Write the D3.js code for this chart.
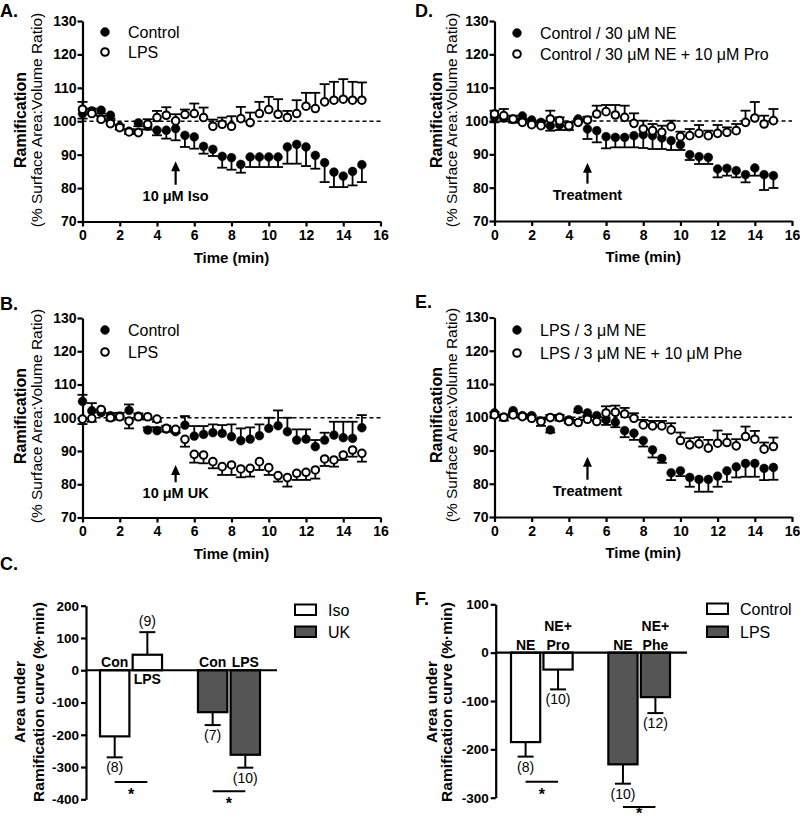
<!DOCTYPE html>
<html lang="en">
<head>
<meta charset="UTF-8">
<script src="https://cdn.jsdelivr.net/npm/d3@7"></script>
<title>Ramification time course and AUC</title>
<style>
  body { margin: 0; background: #fff; }
  svg { display: block; font-family: "Liberation Sans", Arial, sans-serif; }
  .axis path, .axis line { stroke: #000; stroke-width: 2.2px; }
  .axis text { font-weight: bold; font-size: 14px; fill: #000; }
  .bar-axis text { font-size: 13.5px; }
  .lab { font-weight: bold; }
</style>
</head>
<body>
<svg id="fig" width="800" height="823"></svg>
<script>
// time points (min)
const time = [0, 0.5, 1, 1.5, 2, 2.5, 3, 3.5, 4, 4.5, 5, 5.5, 6, 6.5, 7, 7.5,
              8, 8.5, 9, 9.5, 10, 10.5, 11, 11.5, 12, 12.5, 13, 13.5, 14, 14.5, 15];
const timeTicks = [0, 2, 4, 6, 8, 10, 12, 14, 16];
const ramTicks = [70, 80, 90, 100, 110, 120, 130];

// A. Control vs LPS, 10 uM Iso
const ctrlA = [102.3, 103.1, 103.3, 101.8, 98.5, 97, 99.5, 98.5, 97.3, 97.3, 97.8, 95.8, 95.3, 92.5, 91.6, 89.5,
               89.1, 87.1, 89.3, 89.3, 89.3, 89.3, 92.3, 93.1, 92.3, 89.8, 87.6, 84.8, 83.6, 85, 87];
const ctrlAErr = [1.5, 1, 1, 1, 1, 0.8, 1, 1, 1.5, 2.5, 3.5, 3.5, 3.5, 2.2, 2, 3.4,
                  3.6, 2.5, 3, 3, 3, 3, 5, 5.8, 5.7, 4, 5.8, 4.5, 3.3, 4.2, 5.2];
const lpsA = [103.6, 102.3, 100.6, 99.3, 98.1, 96.8, 96.6, 99.1, 101.1, 101.8, 100.1, 102, 102.3, 101.1, 98.5, 99.1,
              98.5, 100.8, 99.6, 102.3, 103.5, 102.1, 101.1, 102.3, 104.5, 103.8, 105.8, 106.3, 106.6, 106.3, 106.3];
const lpsAErr = [2.2, 1.5, 1, 1, 0.8, 0.8, 1, 1.5, 2, 2.4, 2, 1.5, 3, 3, 2, 2,
                 3, 3.5, 3, 3.5, 3.8, 4.5, 2, 4, 4, 4.7, 5.3, 5.5, 6, 5.5, 5.3];

// B. Control vs LPS, 10 uM UK
const ctrlB = [104.9, 102.1, 101.5, 100.6, 100.5, 102.2, 100.5, 96.3, 96.1, 96.6, 95.8, 97.8, 94.5, 95, 95.5, 95.3,
               94.3, 93.1, 93.6, 94.6, 96.8, 97.6, 95.8, 93.3, 93.6, 91.3, 93.3, 94.8, 94, 93.8, 97];
const ctrlBErr = [2, 2.3, 1, 0.8, 1, 1.8, 0.8, 0.8, 1, 1, 1.2, 2.7, 3, 2.5, 2.5, 2.5,
                  3.7, 3.7, 3.5, 3.4, 3.2, 4.6, 4.2, 3.2, 2.9, 2, 2.2, 4, 4.8, 5, 3.8];
const lpsB = [99.6, 99.8, 102.5, 100, 100.3, 99, 100.3, 100.3, 99.6, 96.8, 96.5, 93.5, 89, 88.8, 86.8, 85.3,
              85.8, 84.6, 84.8, 86.8, 85, 82.6, 82, 83.3, 83.6, 84.3, 87.6, 87.3, 88.8, 90.3, 89.3];
const lpsBErr = [1.5, 1, 0.8, 0.8, 0.8, 2.2, 0.8, 0.8, 0.8, 1, 1, 2.2, 2.5, 2.5, 2, 2.5,
                 3, 2.5, 2.5, 2.5, 2.2, 1.8, 2.7, 2, 2.3, 2.6, 2.1, 2, 1.5, 2, 2.5];

// D. Control / 30 uM NE (+ 10 uM Pro)
const neD = [101.1, 100.9, 100.5, 101.5, 100.3, 99.6, 98.6, 98.8, 98.3, 100.6, 97.6, 97.1, 95.3, 95.1, 95.1, 95.6,
             95.9, 95.6, 94.9, 94.1, 92.9, 89.9, 89.3, 89.1, 85.6, 85.8, 85.1, 83.9, 85.9, 83.9, 83.6];
const neDErr = [1.5, 1, 1, 1, 1, 1, 1.5, 1.5, 1, 1, 3, 3.5, 3.5, 3, 3, 3.5,
                4, 4, 3.3, 2.8, 1.6, 1.6, 2.2, 2, 2.5, 2.2, 2, 2.3, 2.3, 4.6, 3.7];
const neProD = [102.1, 101.6, 100.6, 99.6, 98.9, 98.6, 100.6, 100.1, 98.6, 99.6, 100.3, 102.1, 102.8, 101.8, 101.1, 99.3,
                97.6, 97.1, 96.6, 98.3, 95.3, 95.6, 96.3, 95.6, 96.3, 96.6, 97.1, 99.6, 100.9, 99.1, 100.1];
const neProDErr = [1, 2, 1, 1, 1, 1, 2.5, 1, 1, 1, 1, 2.5, 2, 3, 3.5, 3,
                   2.5, 2, 2, 1.8, 1.5, 2, 2.5, 1.5, 2.5, 1.5, 2, 3.5, 4.8, 2.5, 3.5];

// E. LPS / 3 uM NE (+ 10 uM Phe)
const neE = [101.3, 100, 102, 100.5, 100.5, 98.9, 96.2, 100, 99.2, 102.3, 101.3, 100.5, 99.2, 98.5, 96, 95.2,
             93, 90.2, 87.6, 83.3, 83.9, 81.9, 81.3, 81.3, 82.3, 83.9, 85.1, 86.1, 86.1, 84.6, 84.9];
const neEErr = [1, 1, 0.8, 0.8, 1, 1.5, 0.8, 1, 1, 0.8, 1, 1.5, 1.5, 1.5, 2, 2,
                1.8, 2.3, 1.3, 2.2, 1.6, 2.8, 3.7, 3.7, 3.2, 3.3, 3.2, 4, 4, 3.5, 3.7];
const nePheE = [100.7, 100, 100.7, 100.2, 99.7, 98.7, 99.9, 99.9, 98.7, 98.4, 99.4, 98.7, 101.3, 101.5, 101, 99.7,
                97.7, 97.4, 97.4, 96.2, 93, 91.7, 92, 90.7, 92.2, 92.4, 91.4, 94.2, 93.4, 90.4, 91.2];
const nePheEErr = [0.8, 0.8, 0.8, 0.8, 0.8, 0.8, 0.8, 0.8, 0.8, 0.8, 1, 1.5, 2, 2, 1.8, 1.5,
                   1.5, 1.5, 1.5, 2, 2.4, 2, 2, 2.5, 3.8, 2.5, 2, 3, 2.5, 2, 2.7];

// C. area under curve, Iso / UK
const aucCKeys = ["Iso Con", "Iso LPS", "UK Con", "UK LPS"];
const aucCGroup = ["Iso", "Iso", "UK", "UK"];
const aucCMean = [-205, 48, -130, -262];
const aucCSem = [65, 70, 40, 40];
const aucCN = ["(8)", "(9)", "(7)", "(10)"];
const aucCLabels = [["Con"], ["LPS"], ["Con"], ["LPS"]];
const aucCSig = [["Iso Con", "Iso LPS", -346], ["UK Con", "UK LPS", -375]];
const aucCTicks = [-400, -300, -200, -100, 0, 100, 200];

// F. area under curve, Control / LPS
const aucFKeys = ["Control NE", "Control NE+Pro", "LPS NE", "LPS NE+Phe"];
const aucFGroup = ["Control", "Control", "LPS", "LPS"];
const aucFMean = [-185, -35, -231, -92];
const aucFSem = [30, 41, 40, 33];
const aucFN = ["(8)", "(10)", "(10)", "(12)"];
const aucFLabels = [["NE"], ["NE+", "Pro"], ["NE"], ["NE+", "Phe"]];
const aucFSig = [["Control NE", "Control NE+Pro", -267], ["LPS NE", "LPS NE+Phe", -319]];
const aucFTicks = [-300, -200, -100, 0, 100];

const svg = d3.select("#fig");
const pageH = 823;

function panelLetter(txt, x, y) {
    svg.append("text").attr("class", "lab").attr("x", x).attr("y", y)
        .attr("font-size", 18).text(txt);
}

function rotLabel(txt, xb, yc, size, bold) {
    svg.append("text")
        .attr("transform", `translate(${xb},${yc}) rotate(-90)`)
        .attr("text-anchor", "middle")
        .attr("font-size", size)
        .attr("font-weight", bold ? "bold" : "normal")
        .text(txt);
}

/*--- time course panels ---*/
function drawTimePanel(o) {
    const x = d3.scaleLinear().domain([0, 16]).range([o.left, o.right]);
    const y = d3.scaleLinear().domain([70, 130]).range([o.bottom, o.top]);
    const g = svg.append("g");

    panelLetter(o.letter, o.letterX, o.letterY);
    rotLabel("Ramification", o.lab1, o.labC, 16, true);
    rotLabel("(% Surface Area:Volume Ratio)", o.lab2, o.labC, 15.5, false);

    // 100 % reference
    g.append("line")
        .attr("x1", x(0)).attr("x2", x(16))
        .attr("y1", y(100)).attr("y2", y(100))
        .attr("stroke", "#000").attr("stroke-width", 1.6)
        .attr("stroke-dasharray", "4,3");

    g.append("g").attr("class", "axis")
        .attr("transform", `translate(0,${o.bottom})`)
        .call(d3.axisBottom(x).tickValues(timeTicks).tickSize(5).tickPadding(4).tickSizeOuter(0));
    g.append("g").attr("class", "axis")
        .attr("transform", `translate(${o.left},0)`)
        .call(d3.axisLeft(y).tickValues(ramTicks).tickSize(5).tickPadding(1).tickSizeOuter(0));

    g.append("text").attr("class", "lab")
        .attr("x", x(8)).attr("y", o.bottom + 41)
        .attr("text-anchor", "middle").attr("font-size", 15)
        .text("Time (min)");

    // series: error bars (one-sided) then markers
    o.series.forEach((vals, si) => {
        const dir = o.dirs[si];
        const errs = o.errs[si];
        const pts = vals.map((v, i) => ({ t: time[i], v: v, e: v + dir * errs[i] }));
        const eg = g.append("g").attr("stroke", "#000").attr("stroke-width", 1.8);
        eg.selectAll("line.stem").data(pts).enter().append("line")
            .attr("x1", d => x(d.t)).attr("x2", d => x(d.t))
            .attr("y1", d => y(d.v)).attr("y2", d => y(d.e));
        eg.selectAll("line.cap").data(pts).enter().append("line")
            .attr("x1", d => x(d.t) - 5).attr("x2", d => x(d.t) + 5)
            .attr("y1", d => y(d.e)).attr("y2", d => y(d.e));
    });
    o.series.forEach((vals, si) => {
        const open = si === 1;
        g.append("g").selectAll("circle").data(vals).enter().append("circle")
            .attr("cx", (d, i) => x(time[i])).attr("cy", d => y(d))
            .attr("r", open ? 3.8 : 4.4)
            .attr("fill", open ? "#fff" : "#000")
            .attr("stroke", "#000").attr("stroke-width", open ? 2 : 0.5);
    });

    // legend
    o.names.forEach((nm, i) => {
        const open = i === 1;
        svg.append("circle").attr("cx", o.legX).attr("cy", o.legY[i])
            .attr("r", open ? 3.8 : 4.4)
            .attr("fill", open ? "#fff" : "#000")
            .attr("stroke", "#000").attr("stroke-width", open ? 2 : 0.5);
        svg.append("text").attr("x", o.legX + 23).attr("y", o.legY[i] + 5.5)
            .attr("font-size", 16).text(nm);
    });

    // treatment arrow at t = 5
    const ax = x(5), aTop = y(o.arrow[1]), aBot = y(o.arrow[0]);
    g.append("line").attr("x1", ax).attr("x2", ax)
        .attr("y1", aBot).attr("y2", aTop + 8)
        .attr("stroke", "#000").attr("stroke-width", 2.2);
    g.append("path")
        .attr("d", `M${ax - 4.5},${aTop + 10}L${ax + 4.5},${aTop + 10}L${ax},${aTop}Z`)
        .attr("fill", "#000");
    g.append("text").attr("class", "lab")
        .attr("x", ax).attr("y", aBot + 16)
        .attr("text-anchor", "middle").attr("font-size", 14.5)
        .text(o.arrowText);
}

drawTimePanel({
    letter: "A.", letterX: 0, letterY: 17,
    left: 82.5, right: 380.5, top: 21, bottom: 221.5,
    lab1: 26, lab2: 42, labC: 120,
    series: [ctrlA, lpsA], errs: [ctrlAErr, lpsAErr], dirs: [-1, 1],
    names: ["Control", "LPS"], legX: 105, legY: [32, 52],
    arrow: [81, 88], arrowText: "10 \u03bcM Iso"
});
drawTimePanel({
    letter: "B.", letterX: 0, letterY: 310,
    left: 82.5, right: 380.5, top: 318, bottom: 517.5,
    lab1: 26, lab2: 42, labC: 416,
    series: [ctrlB, lpsB], errs: [ctrlBErr, lpsBErr], dirs: [1, -1],
    names: ["Control", "LPS"], legX: 105, legY: [330, 352],
    arrow: [80.6, 85.8], arrowText: "10 \u03bcM UK"
});
drawTimePanel({
    letter: "D.", letterX: 415, letterY: 17,
    left: 494.5, right: 792, top: 21, bottom: 221,
    lab1: 442, lab2: 457, labC: 120,
    series: [neD, neProD], errs: [neDErr, neProDErr], dirs: [-1, 1],
    names: ["Control / 30 \u03bcM NE", "Control / 30 \u03bcM NE + 10 \u03bcM Pro"], legX: 517, legY: [33, 54],
    arrow: [81.2, 87.5], arrowText: "Treatment"
});
drawTimePanel({
    letter: "E.", letterX: 415, letterY: 308,
    left: 494.5, right: 792, top: 317.5, bottom: 517,
    lab1: 442, lab2: 457, labC: 415,
    series: [neE, nePheE], errs: [neEErr, nePheEErr], dirs: [-1, 1],
    names: ["LPS / 3 \u03bcM NE", "LPS / 3 \u03bcM NE + 10 \u03bcM Phe"], legX: 517, legY: [330, 353],
    arrow: [81.2, 88.1], arrowText: "Treatment"
});

/*--- area under curve panels ---*/
function drawAucPanel(o) {
    const y = d3.scaleLinear().domain(d3.extent(o.ticks)).range([o.bottom, o.top]);
    const slots = [o.keys[0], o.keys[1], "", o.keys[2], o.keys[3]];
    const x = d3.scaleBand().domain(slots).range(o.band).paddingInner(0.1);
    const fill = d3.scaleOrdinal().domain(o.names).range(["#fff", "#555"]);
    const g = svg.append("g");
    const y0 = y(0);

    panelLetter(o.letter, o.letterX, o.letterY);
    rotLabel("Area under", o.lab1, o.labC, 15.5, true);
    rotLabel("Ramification curve (%\u00b7min)", o.lab2, o.labC, 15.5, true);

    g.append("g").attr("class", "axis bar-axis")
        .attr("transform", `translate(${o.axisX},0)`)
        .call(d3.axisLeft(y).tickValues(o.ticks).tickSize(5).tickPadding(2)
            .tickSizeOuter(0).tickFormat(d => String(d)));

    const bars = o.keys.map((k, i) => ({
        k: k, grp: o.group[i], m: o.mean[i], s: o.sem[i], n: o.n[i], lab: o.labels[i]
    }));

    // error bars away from zero
    bars.forEach(b => {
        const cx = x(b.k) + x.bandwidth() / 2;
        const end = b.m + Math.sign(b.m) * b.s;
        g.append("line").attr("x1", cx).attr("x2", cx)
            .attr("y1", y(b.m)).attr("y2", y(end))
            .attr("stroke", "#000").attr("stroke-width", 2);
        g.append("line").attr("x1", cx - 8).attr("x2", cx + 8)
            .attr("y1", y(end)).attr("y2", y(end))
            .attr("stroke", "#000").attr("stroke-width", 2);
        g.append("text").attr("x", cx)
            .attr("y", b.m < 0 ? y(end) + 15 : y(end) - 6)
            .attr("text-anchor", "middle").attr("font-size", 14)
            .text(b.n);
    });

    g.selectAll("rect.bar").data(bars).enter().append("rect")
        .attr("x", d => x(d.k))
        .attr("width", x.bandwidth())
        .attr("y", d => Math.min(y(d.m), y0))
        .attr("height", d => Math.abs(y(d.m) - y0))
        .attr("fill", d => fill(d.grp))
        .attr("stroke", "#000").attr("stroke-width", 2.2);

    // category names next to the zero line
    bars.forEach(b => {
        const cx = x(b.k) + x.bandwidth() / 2;
        const nl = b.lab.length;
        b.lab.forEach((ln, j) => {
            const yy = b.m < 0 ? y0 - 3 - (nl - 1 - j) * 19 : y0 + 14 + j * 19;
            g.append("text").attr("class", "lab").attr("x", cx).attr("y", yy)
                .attr("text-anchor", "middle").attr("font-size", 14).text(ln);
        });
    });

    g.append("line").attr("x1", o.axisX).attr("x2", o.zeroEnd)
        .attr("y1", y0).attr("y2", y0)
        .attr("stroke", "#000").attr("stroke-width", 2.2);

    // significance
    o.sig.forEach(s => {
        const xa = x(s[0]) + x.bandwidth() / 2, xb = x(s[1]) + x.bandwidth() / 2;
        const yy = y(s[2]);
        g.append("line").attr("x1", xa).attr("x2", xb).attr("y1", yy).attr("y2", yy)
            .attr("stroke", "#000").attr("stroke-width", 2);
        g.append("text").attr("class", "lab").attr("x", (xa + xb) / 2)
            .attr("y", Math.min(yy + 18, pageH - 4))
            .attr("text-anchor", "middle").attr("font-size", 16).text("*");
    });

    // legend
    o.names.forEach((nm, i) => {
        svg.append("rect").attr("x", o.legX).attr("y", o.legY[i])
            .attr("width", 21).attr("height", 10.5)
            .attr("fill", fill(nm)).attr("stroke", "#000").attr("stroke-width", 2);
        svg.append("text").attr("x", o.legX + 33).attr("y", o.legY[i] + 11)
            .attr("font-size", 16).text(nm);
    });
}

drawAucPanel({
    letter: "C.", letterX: 0, letterY: 570,
    axisX: 86, top: 605.7, bottom: 799.3, ticks: aucCTicks,
    band: [100, 260], zeroEnd: 277,
    lab1: 25, lab2: 43.5, labC: 702,
    keys: aucCKeys, group: aucCGroup, mean: aucCMean, sem: aucCSem, n: aucCN,
    labels: aucCLabels, sig: aucCSig,
    names: ["Iso", "UK"], legX: 295, legY: [604.5, 626.5]
});
drawAucPanel({
    letter: "F.", letterX: 415, letterY: 605,
    axisX: 495.7, top: 604.3, bottom: 797.7, ticks: aucFTicks,
    band: [511, 670], zeroEnd: 687,
    lab1: 437, lab2: 452, labC: 702,
    keys: aucFKeys, group: aucFGroup, mean: aucFMean, sem: aucFSem, n: aucFN,
    labels: aucFLabels, sig: aucFSig,
    names: ["Control", "LPS"], legX: 707, legY: [603.5, 626.5]
});
</script>
</body>
</html>
